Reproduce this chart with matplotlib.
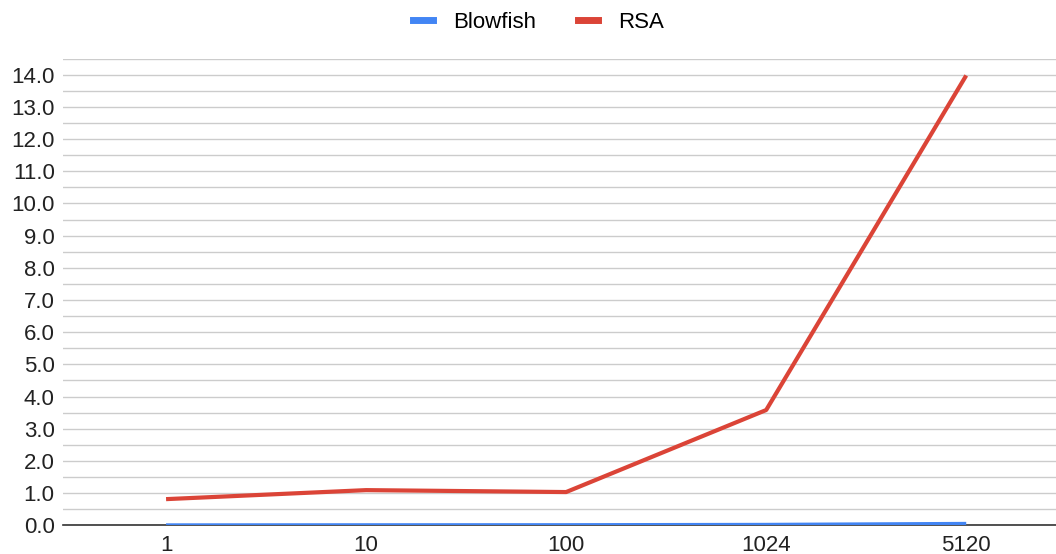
import numpy as np
import matplotlib.pyplot as plt
from matplotlib.lines import Line2D

# data
categories = ['1', '10', '100', '1024', '5120']
blowfish = [0.005, 0.008, 0.01, 0.02, 0.05]
rsa = [0.81, 1.09, 1.03, 3.58, 13.98]

plt.rcParams['font.family'] = ['Liberation Sans', 'DejaVu Sans']

fig = plt.figure(figsize=(10.56, 5.54), dpi=100)
ax = fig.add_axes([0.0597, 0.052, 0.95, 0.842])

x = np.arange(len(categories))
ax.plot(x, blowfish, color='#4285f4', linewidth=2.5, solid_capstyle='butt', zorder=3)
ax.plot(x, rsa, color='#db4437', linewidth=3, solid_capstyle='butt', zorder=3)

ax.set_xlim(-0.515, 4.5)
ax.set_ylim(0, 14.5)
ax.set_yticks(np.arange(0, 15, 1.0))
ax.set_yticklabels([f'{v:.1f}' for v in np.arange(0, 15, 1.0)])
ax.set_yticks(np.arange(0.5, 15, 1.0), minor=True)
ax.set_xticks(x)
ax.set_xticklabels(categories)

ax.grid(axis='y', which='both', color='#cccccc', linewidth=1)
ax.set_axisbelow(True)
for s in ['top', 'right', 'left']:
    ax.spines[s].set_visible(False)
ax.spines['bottom'].set_color('#333333')
ax.spines['bottom'].set_linewidth(1.2)
ax.tick_params(axis='both', which='both', length=0, labelsize=16, colors='#222222')
ax.tick_params(axis='y', pad=6)
ax.tick_params(axis='x', pad=7)

handles = [Line2D([0], [0], color='#4285f4', linewidth=5),
           Line2D([0], [0], color='#db4437', linewidth=5)]
fig.legend(handles, ['Blowfish', 'RSA'], loc='upper center', bbox_to_anchor=(0.51, 1.015),
           ncol=2, frameon=False, fontsize=16, handlelength=0.9, columnspacing=1.9,
           handletextpad=0.9)

fig.savefig('out.png', dpi=100)
